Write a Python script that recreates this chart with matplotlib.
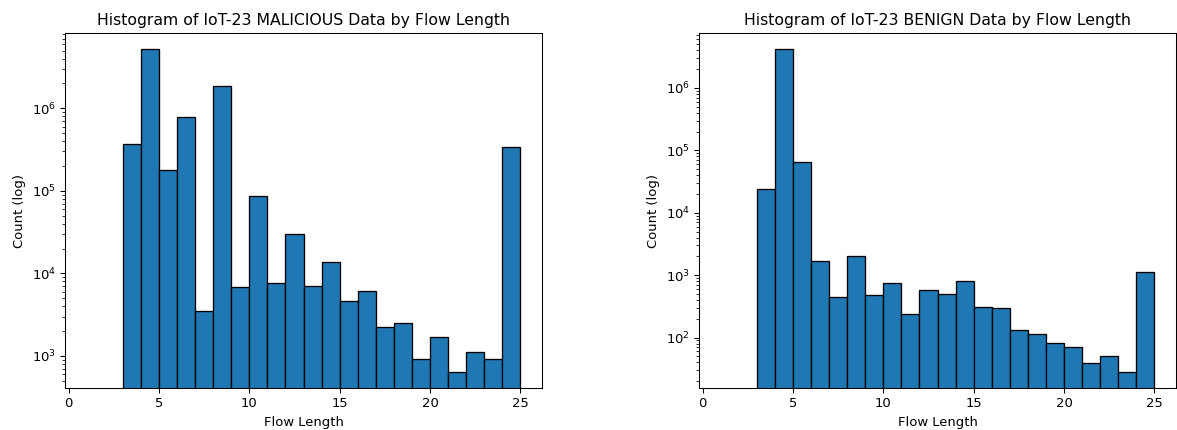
import numpy as np
import matplotlib
matplotlib.use("Agg")
import matplotlib.pyplot as plt

# bin edges (flow length) and counts
edges = np.arange(1, 26)
malicious_counts = [0, 0, 365000, 5160000, 177000, 794000, 3530, 1860000, 6780, 85900,
                    7690, 30400, 7030, 13800, 4620, 6070, 2260, 2510, 931, 1710,
                    637, 1120, 914, 338000]
benign_counts = [0, 0, 24200, 4150000, 65500, 1710, 442, 2020, 476, 748,
                 242, 569, 491, 806, 313, 298, 132, 116, 81, 70,
                 38.8, 50.8, 27.9, 1110]

dpi = 94.5
fig = plt.figure(figsize=(1177 / dpi, 430 / dpi), dpi=dpi)
ax1 = fig.add_axes([65 / 1177, 41.7 / 430, 477 / 1177, 355 / 430])
ax2 = fig.add_axes([699 / 1177, 41.7 / 430, 477 / 1177, 355 / 430])

for ax, counts, name in [(ax1, malicious_counts, 'MALICIOUS'), (ax2, benign_counts, 'BENIGN')]:
    ax.hist(edges[:-1], bins=edges, weights=counts, log=True, edgecolor='black')
    ax.set_title(f'Histogram of IoT-23 {name} Data by Flow Length')
    ax.set_xlabel('Flow Length')
    ax.set_ylabel('Count (log)')

plt.savefig('out.png')
